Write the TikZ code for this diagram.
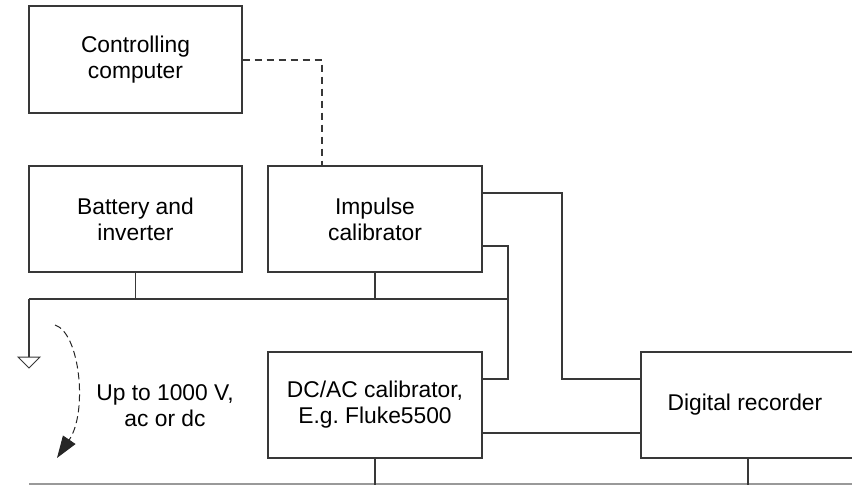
\documentclass[tikz,border=0pt]{standalone}
\usepackage{fontspec}
\setmainfont{Liberation Sans}
\usetikzlibrary{arrows.meta}
\frenchspacing
\begin{document}
\begin{tikzpicture}[x=1pt,y=-1pt,
  wire/.style={draw=black!78,line width=1.2pt},
  blk/.style={wire,rectangle,inner sep=0pt,align=center,
    font=\fontsize{22.8}{26}\selectfont,text=black},
  lbl/.style={align=center,font=\fontsize{22.8}{26}\selectfont,text=black}]
\useasboundingbox (0,0) rectangle (852,485);
\clip (0,0) rectangle (852,485);
\node[blk,minimum width=213pt,minimum height=107pt] (cc) at (135.5,59.5) {Controlling\\computer};
\node[blk,minimum width=213pt,minimum height=106pt] (bat) at (135.5,219) {Battery and\\inverter};
\node[blk,minimum width=214pt,minimum height=106pt] (imp) at (375,219) {Impulse\\calibrator};
\node[blk,minimum width=214pt,minimum height=106pt] (dc) at (375,405) {DC/AC calibrator,\\E.g.\ Fluke5500};
\node[blk,minimum width=240pt,minimum height=106pt] (dr) at (761,405) {};
\node[lbl] (drt) at (745,405) {Digital recorder};
\node[lbl] (vt) at (165,406) {Up to 1000 V,\\ac or dc};
% coordinates
\coordinate (gl) at (29,299);
\coordinate (gr) at (508,299);
\coordinate (gnd) at (29,357);
% dashed control link
\draw[wire,dashed,dash pattern=on 7pt off 5pt] (cc.east |- 0,60) -- (322,60) -- (imp.north -| 322,0);
% ground bus
\draw[wire] (gl) -- (gr);
\draw[wire] (bat.south) -- (bat.south |- gl);
\draw[wire] (imp.south) -- (imp.south |- gl);
\draw[wire] (gl) -- (gnd);
\draw[wire,fill=white,line width=1pt] (18,357) -- (40,357) -- (29,368) -- cycle;
% impulse to digital recorder
\draw[wire] (imp.east |- 0,193) -- (562,193) -- (562,379) -- (dr.west |- 0,379);
% impulse to dc calibrator and bus
\draw[wire] (imp.east |- 0,246) -- (508,246) -- (508,379) -- (dc.east |- 0,379);
% dc to recorder
\draw[wire] (dc.east |- 0,433) -- (dr.west |- 0,433);
% bottom line
\draw[draw=black!40,line width=1.2pt] (29,484) -- (852,484);
\draw[wire] (dc.south) -- (dc.south |- 0,485);
\draw[wire] (dr.south -| 748,0) -- (748,485);
% voltage arrow
\draw[black!85,line width=1pt,dash pattern=on 7pt off 4pt,-{Triangle[length=22pt,width=15pt]}]
  (55,325) .. controls (80,333) and (88,412) .. (57,458);
\end{tikzpicture}
\end{document}
